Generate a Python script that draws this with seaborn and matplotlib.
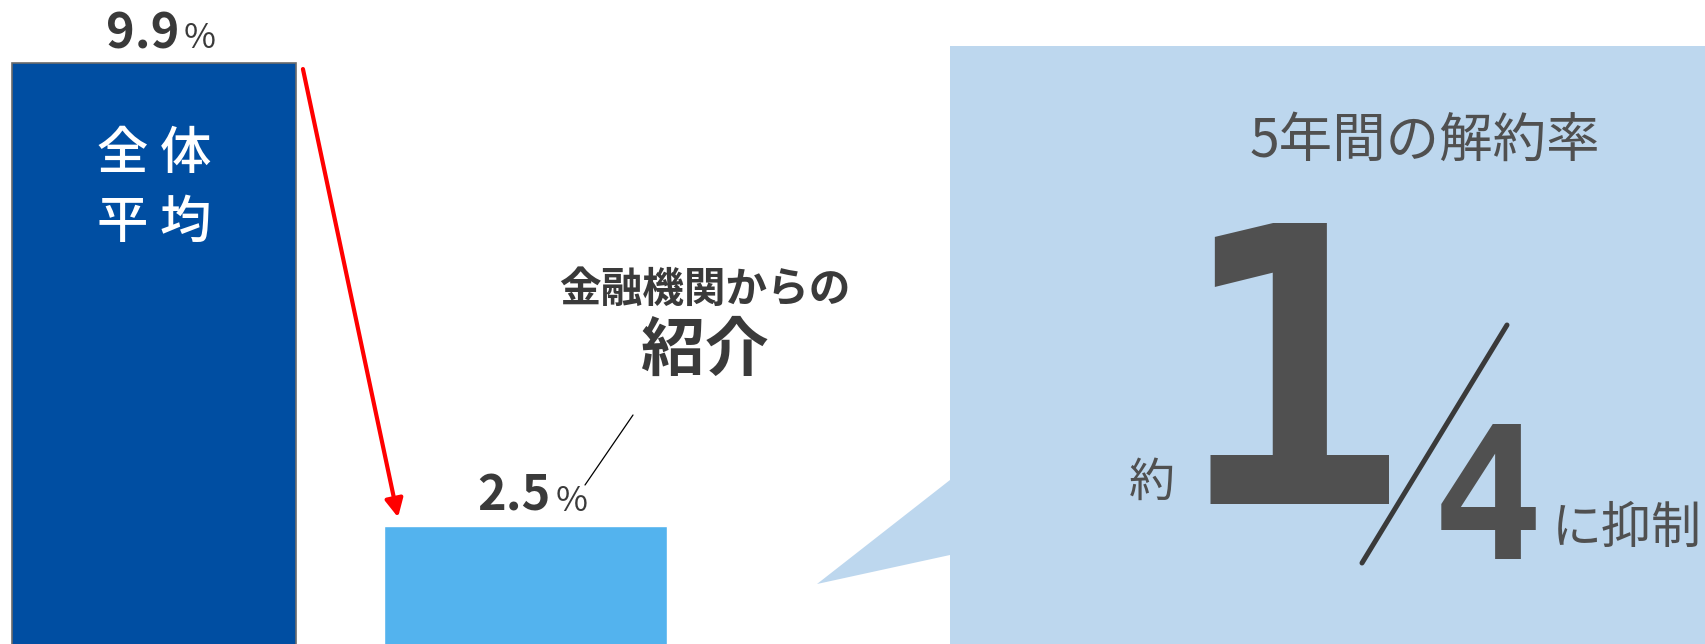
import matplotlib.pyplot as plt
from matplotlib.patches import Polygon
from matplotlib.lines import Line2D
import seaborn as sns
import pandas as pd

# data
categories = ['全体平均', '金融機関からの紹介']
values = [9.9, 2.5]
value_labels = ['9.9', '2.5']
bar_colors = ['#004EA2', '#53B3EE']

W, H = 1706, 644

sns.set_theme(style='white')
plt.rcParams['font.family'] = ['Noto Sans CJK JP', 'DejaVu Sans']

df = pd.DataFrame({'group': categories, 'rate': values})

fig = plt.figure(figsize=(W / 100, H / 100), dpi=100)
ax = fig.add_axes([0, 0, 1, 1])
sns.barplot(data=df, x='group', y='rate', hue='group', palette=bar_colors,
            width=0.764, legend=False, ax=ax, saturation=1)
ax.set_xlim(-0.4145, 4.178)
ax.set_ylim(0.614, 10.914)
ax.axis('off')

ax.patches[0].set_edgecolor('#6b6b6b')
ax.patches[0].set_linewidth(1.2)


def fpos(x, y):
    # pixel position -> figure fraction
    return x / W, 1 - y / H


dark = '#3a3a3a'
grey = '#505050'

# value labels above bars
for i, (v, lab) in enumerate(zip(values, value_labels)):
    ax.annotate(lab, (i, v), xytext=(18, 11), textcoords='offset points',
                ha='right', va='baseline', fontsize=35, fontweight='bold', color=dark)
    ax.annotate('%', (i, v), xytext=(21.5, 11), textcoords='offset points',
                ha='left', va='baseline', fontsize=25, color=dark)

# label inside the first bar
ax.annotate('全 体\n平 均', (0, values[0]), xytext=(0, -90), textcoords='offset points',
            ha='center', va='center', fontsize=37, fontweight='medium', color='white',
            linespacing=1.4)

# red arrow from bar 1 down to bar 2
ax.annotate('', xy=(1 - 0.343, values[1] + 0.14), xytext=(0.401, values[0] - 0.09),
            arrowprops=dict(arrowstyle='-|>,head_length=0.9,head_width=0.45',
                            color='#FF0000', lw=3, shrinkA=0, shrinkB=0))

# label for the second bar
fig.text(*fpos(705, 290), '金融機関からの', ha='center', va='center',
         fontsize=30, fontweight='bold', color=dark)
fig.text(*fpos(705, 351), '紹介', ha='center', va='center',
         fontsize=46, fontweight='bold', color=dark)
x0, y0 = fpos(633, 415)
x1, y1 = fpos(585, 485)
fig.add_artist(Line2D([x0, x1], [y0, y1], transform=fig.transFigure, color='black', lw=0.9))

# callout box
pts = [(950, 46), (W, 46), (W, H), (950, H), (950, 555), (817, 584), (950, 480)]
fig.add_artist(Polygon([fpos(x, y) for x, y in pts], closed=True, transform=fig.transFigure,
                       facecolor='#BDD7EE', edgecolor='none', zorder=0))

fig.text(*fpos(1425, 141), '5年間の解約率', ha='center', va='center', fontsize=38.5, color=grey)
fig.text(*fpos(1152, 483), '約', ha='center', va='center', fontsize=33, color=grey)
fig.text(*fpos(1291, 504), '1', ha='center', va='baseline', fontsize=278,
         fontweight='bold', family='DejaVu Sans Mono', color=grey)
fig.text(*fpos(1488, 559), '4', ha='center', va='baseline', fontsize=134,
         fontweight='bold', family='DejaVu Sans Mono', color=grey)
x0, y0 = fpos(1507, 325)
x1, y1 = fpos(1362, 563)
fig.add_artist(Line2D([x0, x1], [y0, y1], transform=fig.transFigure, color=dark, lw=3.6))
fig.text(*fpos(1627, 529), 'に抑制', ha='center', va='center', fontsize=36, color=grey)

fig.savefig('out.png', dpi=100)
